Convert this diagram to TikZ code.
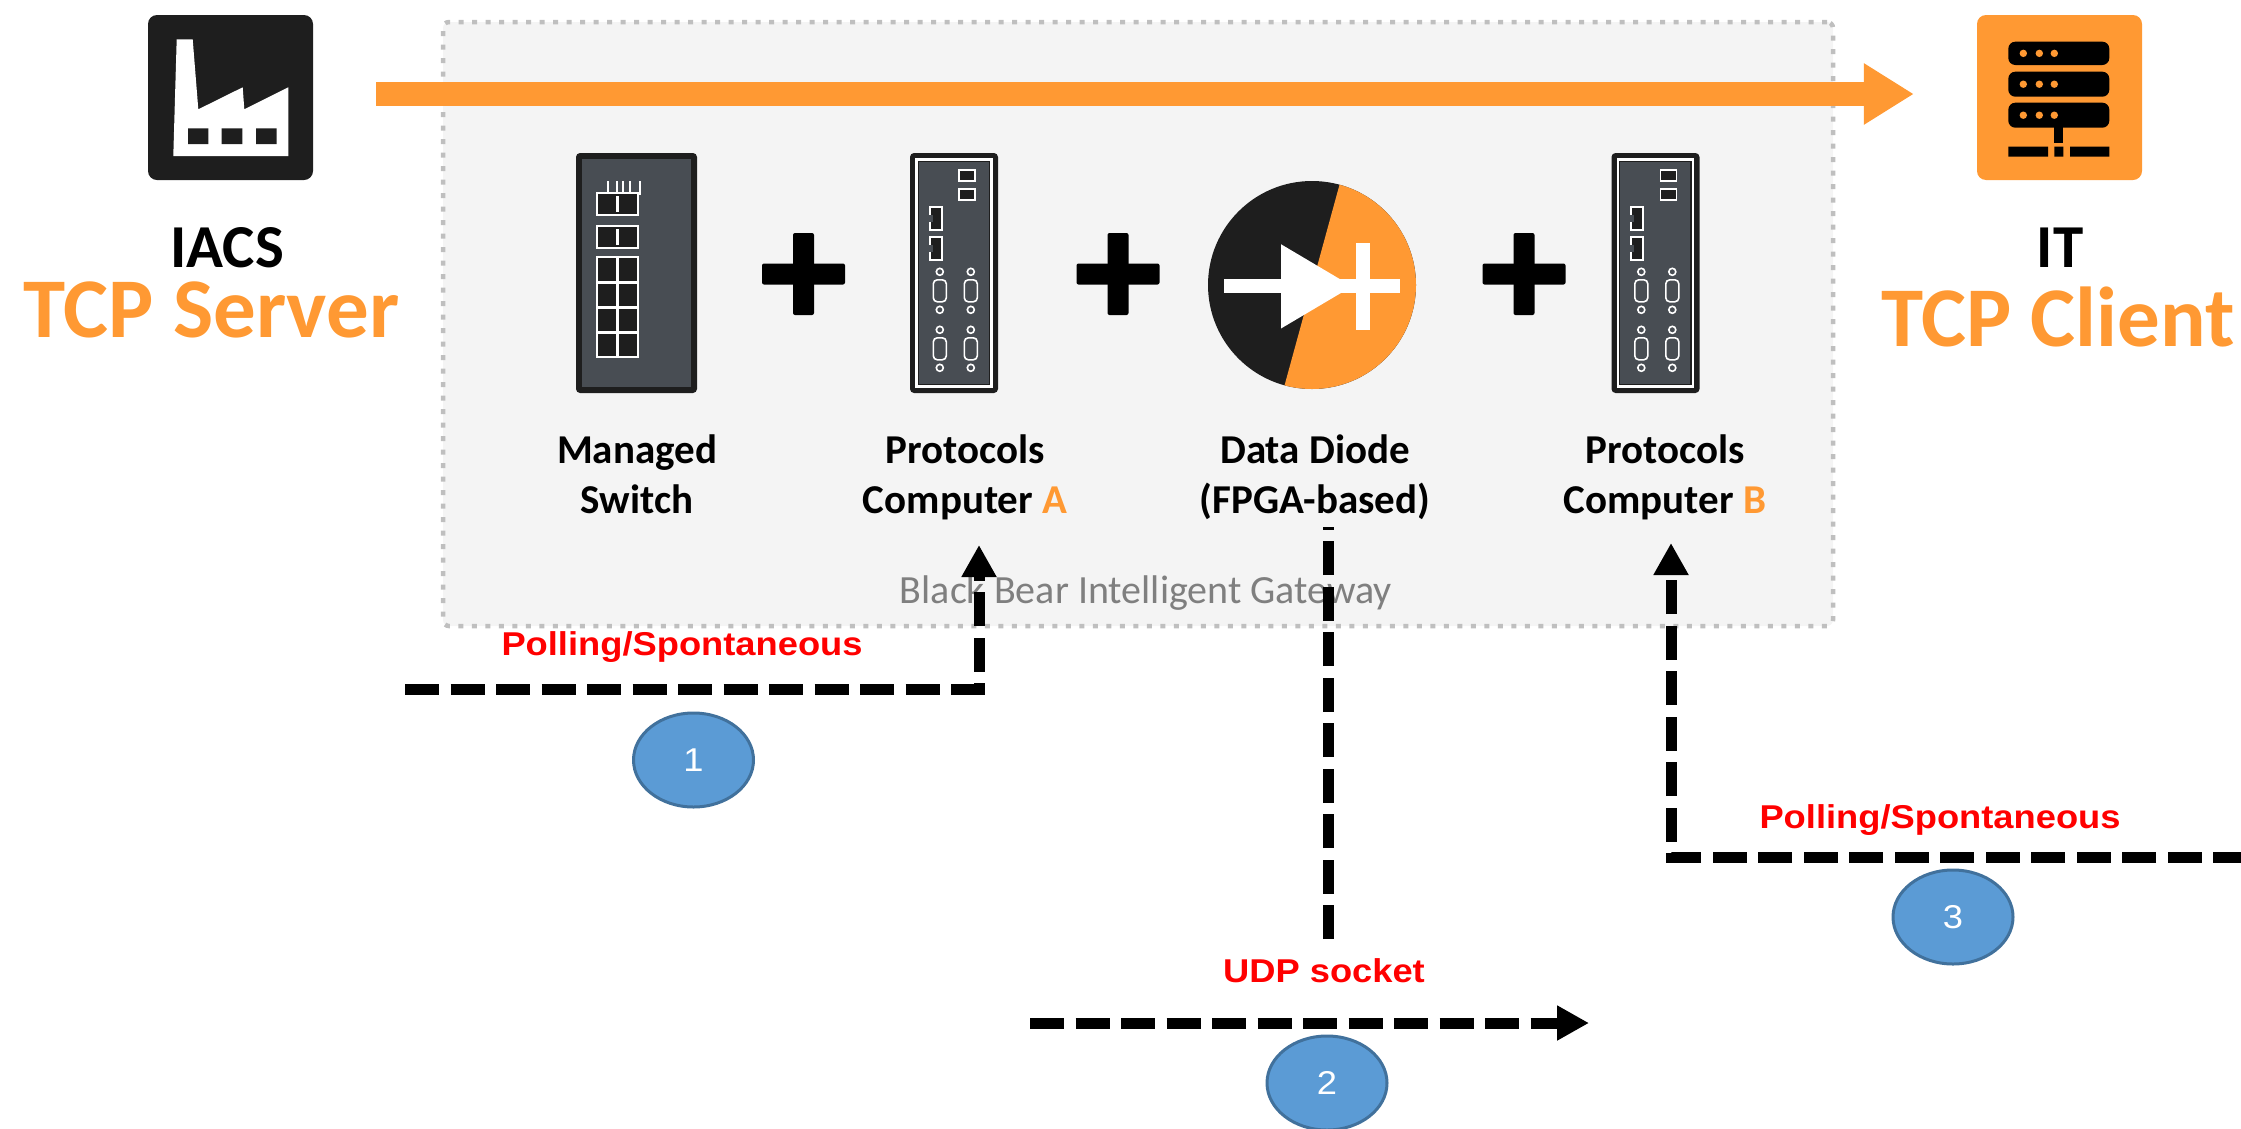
\documentclass[tikz,border=0pt]{standalone}
\usepackage{fontspec}
\setmainfont{Carlito}
\newfontfamily\arialfont[FakeStretch=1.1]{Liberation Sans}
\usetikzlibrary{arrows.meta,shapes.geometric}

\definecolor{orng}{RGB}{255,153,51}
\definecolor{iconblack}{RGB}{30,30,30}
\definecolor{panelgray}{RGB}{72,77,83}
\definecolor{boxfill}{RGB}{244,244,244}
\definecolor{boxline}{RGB}{191,191,191}
\definecolor{gwtext}{RGB}{127,127,127}
\definecolor{stepfill}{RGB}{91,155,213}
\definecolor{stepline}{RGB}{65,113,156}
\definecolor{flowred}{RGB}{255,0,0}

\newcommand\lblfont{\fontsize{41}{50}\selectfont\bfseries}
\newcommand\headfont{\fontsize{61}{70}\selectfont\bfseries}
\newcommand\rolefont{\fontsize{85}{90}\selectfont\bfseries}
\newcommand\redfont{\arialfont\fontsize{33}{38}\selectfont\bfseries}
\newcommand\gwfont{\fontsize{40}{44}\selectfont}
\newcommand\numfont{\arialfont\fontsize{33}{33}\selectfont}

\tikzset{
  iconsq/.style={minimum width=165pt, minimum height=165pt, rounded corners=9pt, inner sep=0pt, draw=none},
  devbody/.style={fill=iconblack, minimum height=240pt, rounded corners=4pt, inner sep=0pt},
  txt/.style={anchor=base, inner sep=0pt},
  lbl/.style={txt, font=\lblfont},
  redlbl/.style={txt, font=\redfont, text=flowred},
  flowline/.style={line width=11pt, dash pattern=on 34pt off 11.5pt},
  flow/.style={flowline, -{Triangle[length=32pt,width=33pt]}},
  bigflow/.style={orng, line width=24pt, -{Triangle[length=50pt,width=58pt]}},
  stepmark/.style={ellipse, draw=stepline, line width=3pt, fill=stepfill,
    minimum width=120pt, minimum height=94pt, inner sep=0pt, text=white, font=\numfont},
  plussign/.pic={
    \fill[black, rounded corners=2pt] (-10.5,-41) rectangle (10.5,41);
    \fill[black, rounded corners=2pt] (-41.5,-10.5) rectangle (41.5,10.5);
  },
  pcface/.pic={
    \draw[white, line width=2.5pt] (6.5,6.5) rectangle (81.5,233.5);
    \fill[panelgray] (9,9) rectangle (79,231);
    % terminal blocks
    \foreach \yy in {17,36}
      \filldraw[draw=white, fill=iconblack, line width=1.5pt] (49,\yy) rectangle (65,\yy+11);
    % ethernet ports
    \foreach \yy in {54,84} {
      \filldraw[draw=white, fill=iconblack, line width=2pt] (20,\yy) rectangle (32,\yy+23);
      \fill[panelgray] (19,\yy+8) rectangle (23,\yy+15);
    }
    % serial ports with screws
    \foreach \xx in {30,61} {
      \foreach \yy in {119,177} {
        \draw[white, line width=1.6pt] (\xx,\yy) circle (3.5pt);
        \draw[white, line width=1.6pt, rounded corners=4pt] (\xx-6.5,\yy+8) rectangle (\xx+6.5,\yy+30);
        \draw[white, line width=1.6pt] (\xx,\yy+38) circle (3.5pt);
      }
    }
  },
}

\begin{document}
\begin{tikzpicture}[x=1pt,y=-1pt]
\useasboundingbox (0,0) rectangle (2241,1128);

% gateway enclosure
\node[draw=boxline, fill=boxfill, line width=4.5pt, dash pattern=on 5pt off 8.5pt,
      rounded corners=6pt, minimum width=1390pt, minimum height=604pt, inner sep=0pt]
      (gw) at (1138,324) {};
\node[txt, font=\gwfont, text=gwtext] (gwlbl) at (1146,603) {Black Bear Intelligent Gateway};

% IACS factory icon
\node[iconsq, fill=iconblack] (iacs) at (230.5,97.5) {};
\fill[white] (173.3,156) -- (176.7,39.3) -- (192.7,39.3) -- (198.3,109.3) -- (242.7,87.3)
  -- (244.3,109.3) -- (288.3,87.3) -- (288.3,156) -- cycle;
\fill[iconblack] (188,128.3) rectangle (208.3,144) (221.7,128.3) rectangle (242.3,144)
  (256,128.3) rectangle (276.7,144);

% IT server icon
\node[iconsq, fill=orng] (it) at (2059.5,97.5) {};
\foreach \yt/\yb in {41.7/65, 71.7/96.7, 102.7/127.7} {
  \fill[black, rounded corners=7pt] (2008.3,\yt) rectangle (2109.3,\yb);
  \foreach \xd in {2023.3,2039.3,2054.3}
    \fill[orng] (\xd,{(\yt+\yb)/2}) circle (3.7pt);
}
\fill[black] (2054.3,127) rectangle (2063.3,143);
\fill[black] (2008.3,146.7) rectangle (2048,156.7) (2054.3,146.7) rectangle (2063.3,156.7)
  (2070,146.7) rectangle (2109.3,156.7);

% one-way flow
\draw[bigflow] ([xshift=63pt,yshift=3.5pt]iacs.east) -- ([xshift=-63pt,yshift=3.5pt]it.west);

% end labels
\node[txt, font=\headfont, text depth=0pt] (iacsL) at (227,267) {IACS};
\node[txt, font=\rolefont, text=orng, text height=0.66em] (iacsR) at (211.5,337) {TCP Server};
\node[txt, font=\headfont, text depth=0pt] (itL) at (2060,267) {IT};
\node[txt, font=\rolefont, text=orng, text height=0.66em] (itR) at (2058,346) {TCP Client};

% managed switch
\node[devbody, minimum width=121pt] (switch) at (636.5,273) {};
\fill[panelgray] (582,159) rectangle (691,387);
\draw[white, line width=1.6pt] (608,181) -- (608,193) (617,181) -- (617,193)
  (623,181) -- (623,193) (630,181) -- (630,193) (640,181) -- (640,195);
\foreach \yt/\yb in {193/215, 226/248} {
  \filldraw[draw=white, fill=iconblack, line width=2pt] (597,\yt) rectangle (638,\yb);
  \draw[white, line width=3pt] (617.5,\yt+3) -- (617.5,\yb-3);
}
\filldraw[draw=white, fill=iconblack, line width=2pt] (597,257) rectangle (638,357);
\draw[white, line width=3pt] (617.5,257) -- (617.5,357)
  (597,282) -- (638,282) (597,307) -- (638,307) (597,332) -- (638,332);

% protocol computers
\node[devbody, minimum width=88pt] (pcA) at (954,273) {};
\pic at (pcA.north west) {pcface};
\node[devbody, minimum width=88pt] (pcB) at (1655.5,273) {};
\pic at (pcB.north west) {pcface};

% data diode: black disc, orange half, white diode symbol
\node[circle, fill=iconblack, minimum size=208pt, inner sep=0pt] (diode) at (1312,285) {};
\begin{scope}
  \clip (1312,285) circle (104pt);
  \begin{scope}[shift={(1312,285)}, scale=0.912]
    \fill[orng] (34,-124) -- (148,-124) -- (148,126) -- (-34.5,126) -- cycle;
  \end{scope}
\end{scope}
\begin{scope}[shift={(1312,285)}, scale=0.912]
  \fill[white] (-97,-6.3) rectangle (96,9.3);
  \fill[white] (-34,-44.7) -- (44,1.5) -- (-34,47.7) -- cycle;
  \fill[white] (48,-46) rectangle (64,49);
\end{scope}

% plus signs
\coordinate (plus1) at (803.5,274);
\coordinate (plus2) at (1118,274);
\coordinate (plus3) at (1524,274);
\pic at (plus1) {plussign};
\pic at (plus2) {plussign};
\pic at (plus3) {plussign};

% device labels
\node[lbl] (swL1) at (637,463) {Managed};
\node[lbl] (swL2) at (637,513) {Switch};
\node[lbl] (paL1) at (965,463) {Protocols};
\node[lbl] (paL2) at (965,513) {Computer \textcolor{orng}{A}};
\node[lbl] (ddL1) at (1315,463) {Data Diode};
\node[lbl] (ddL2) at (1315,513) {(FPGA-based)};
\node[lbl] (pbL1) at (1665,463) {Protocols};
\node[lbl] (pbL2) at (1665,513) {Computer \textcolor{orng}{B}};

% step 1: polling into computer A
\coordinate (s1in) at (405,689);
\coordinate (s1end) at (979,545);
\draw[flow] (s1in) -| (s1end);
\node[redlbl] (s1lbl) at (682,655) {Polling/Spontaneous};
\node[stepmark] (n1) at (693.5,760) {1};

% step 2: UDP across the diode
\coordinate (s2top) at (1328,527);
\coordinate (s2bot) at (1328,939);
\draw[flowline] (s2bot) -- (s2top);
\coordinate (s2in) at (1030,1023);
\coordinate (s2out) at (1589,1023);
\draw[flow] (s2in) -- (s2out);
\node[redlbl] (s2lbl) at (1324,982) {UDP socket};
\node[stepmark] (n2) at (1327,1083) {2};

% step 3: polling into computer B
\coordinate (s3in) at (2247,857);
\coordinate (s3end) at (1671,543);
\draw[flow] (s3in) -| (s3end);
\node[redlbl] (s3lbl) at (1940,828) {Polling/Spontaneous};
\node[stepmark] (n3) at (1953,917) {3};
\end{tikzpicture}
\end{document}
